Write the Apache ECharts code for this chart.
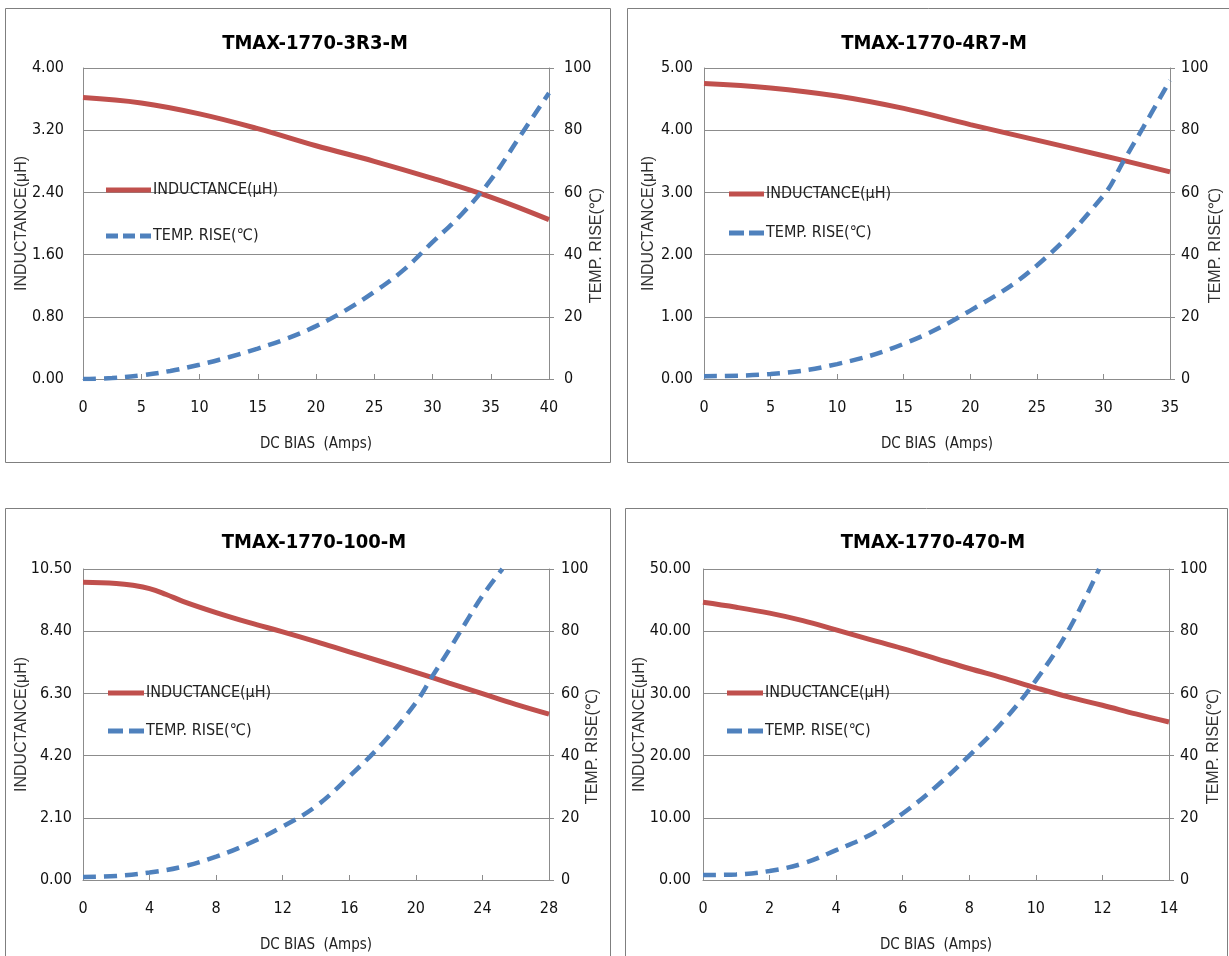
<!DOCTYPE html>
<html><head><meta charset="utf-8">
<script src="https://cdn.jsdelivr.net/npm/echarts@6/dist/echarts.min.js"></script>
<style>html,body{margin:0;padding:0;background:#fff}#c{width:1229px;height:956px}</style>
</head><body><div id="c"></div>
<script>
// Panel titles
const titles = ['TMAX-1770-3R3-M', 'TMAX-1770-4R7-M', 'TMAX-1770-100-M', 'TMAX-1770-470-M'];
// Axis ranges
const xMax = [40, 35, 28, 14];
const xInterval = [5, 5, 4, 2];
const yLeftMax = [4, 5, 10.5, 50];
const yLeftInterval = [0.8, 1, 2.1, 10];
const yRightMax = [100, 100, 100, 100];
const yRightInterval = [20, 20, 20, 20];

// Panel 1 : TMAX-1770-3R3-M
const p1IndX = [0, 5, 10, 15, 20, 25, 30, 35, 40];
const p1Ind = [3.62, 3.55, 3.41, 3.22, 3.00, 2.80, 2.58, 2.34, 2.05];
const p1TmpX = [0, 2.5, 5, 7.5, 10, 12.5, 15, 17.5, 20, 22.5, 25, 27.5, 30, 32.5, 35, 37.5, 40];
const p1Tmp = [0, 0.3, 1.2, 2.6, 4.6, 7, 9.8, 13, 17, 22, 28, 35, 44, 53, 64, 78, 92];

// Panel 2 : TMAX-1770-4R7-M
const p2IndX = [0, 5, 10, 15, 20, 25, 30, 35];
const p2Ind = [4.75, 4.68, 4.55, 4.35, 4.09, 3.84, 3.59, 3.33];
const p2TmpX = [0, 5, 10, 15, 20, 25, 30, 31.5, 33, 35];
const p2Tmp = [0.9, 1.6, 4.8, 11.3, 22, 36.5, 59, 70, 81, 96];

// Panel 3 : TMAX-1770-100-M
const p3IndX = [0, 2, 3, 4, 5, 6, 8, 10, 12, 14, 16, 18, 20, 22, 24, 26, 28];
const p3Ind = [10.05, 10.01, 9.95, 9.84, 9.64, 9.41, 9.03, 8.69, 8.38, 8.05, 7.70, 7.36, 7.01, 6.65, 6.29, 5.93, 5.60];
const p3TmpX = [0, 2, 4, 6, 8, 10, 12, 14, 16, 18, 20, 21, 22, 23, 24, 25.2];
const p3Tmp = [1, 1.3, 2.4, 4.3, 7.5, 11.8, 17.2, 23.7, 33.3, 44, 57, 65.6, 74, 82.8, 91.4, 100];

// Panel 4 : TMAX-1770-470-M
const p4IndX = [0, 1, 2, 3, 4, 5, 6, 7, 8, 9, 10, 11, 12, 13, 14];
const p4Ind = [44.65, 43.85, 42.9, 41.7, 40.2, 38.7, 37.2, 35.6, 34.0, 32.5, 30.9, 29.4, 28.1, 26.7, 25.4];
const p4TmpX = [0, 1, 2, 3, 4, 5, 6, 7, 8, 9, 10, 11, 11.9];
const p4Tmp = [1.6, 1.8, 2.9, 5.3, 9.6, 14.4, 21.4, 30, 40, 50.8, 64.2, 80.7, 100];

const indLabel = 'INDUCTANCE(μH)';
const tmpLabel = 'TEMP. RISE(℃)';
const xName = 'DC BIAS  (Amps)';

const indX = [p1IndX, p2IndX, p3IndX, p4IndX];
const indY = [p1Ind, p2Ind, p3Ind, p4Ind];
const tmpX = [p1TmpX, p2TmpX, p3TmpX, p4TmpX];
const tmpY = [p1Tmp, p2Tmp, p3Tmp, p4Tmp];

const pair = (xs, ys) => xs.map((x, i) => [x, ys[i]]);

// layout
const grids = [
  {left: 83, top: 68, width: 466, height: 311},
  {left: 704, top: 68, width: 466, height: 311},
  {left: 83, top: 569, width: 466, height: 311},
  {left: 703, top: 569, width: 466, height: 311}
];
const leftNameGap = [53, 47, 53, 55];
const rightNameGap = [40, 38, 36, 37];
const leftLabelMargin = [19, 11, 11, 12];
const rightLabelMargin = [15, 11, 12, 11];
const boxes = [[5, 8, 605, 454], [627, 8, 603, 454], [5, 508, 605, 460], [625, 508, 602, 460]];
const titlePos = [[310, 29], [929, 29], [309, 528], [928, 528]];
// [left, top, iconWidth, gap]
const legendPos = [[101, 177, 45, 30], [724, 181, 35, 23], [103, 680, 36, 22], [722, 680, 36, 22]];
const solidIcon = w => 'path://M0,0H' + w + 'V5H0Z';
const dashIcon = w => w > 40
  ? 'path://M0,0h12v5h-12zM17,0h12v5h-12zM34,0h11v5h-11z'
  : 'path://M0,0h15v5h-15zM' + (w - 15) + ',0h15v5h-15z';

const narrow = "'Liberation Sans Narrow','DejaVu Sans Condensed',sans-serif";
const sans = "'Liberation Sans',Arial,sans-serif";
const red = '#C0504D', blue = '#4F81BD', gridGray = '#8c8c8c';

const option = {
  animation: false,
  backgroundColor: '#fff',
  graphic: boxes.map(b => ({type: 'rect', shape: {x: b[0] + 0.5, y: b[1] + 0.5, width: b[2], height: b[3]}, style: {fill: 'none', stroke: '#7f7f7f', lineWidth: 1}, z: -1})),
  title: titles.map((t, i) => ({text: t, left: titlePos[i][0], top: titlePos[i][1], textAlign: 'center',
    textStyle: {fontFamily: narrow, fontWeight: 'bold', fontSize: 20, color: '#000'}})),
  legend: [0, 1, 2, 3].map(i => ({
    data: [
      {name: indLabel + '#' + i, icon: solidIcon(legendPos[i][2]), itemStyle: {color: red}},
      {name: tmpLabel + '#' + i, icon: dashIcon(legendPos[i][2]), itemStyle: {color: blue}}
    ],
    formatter: n => n.split('#')[0],
    orient: 'vertical', left: legendPos[i][0], top: legendPos[i][1],
    itemWidth: legendPos[i][2], itemHeight: 5, itemGap: legendPos[i][3],
    symbolKeepAspect: false,
    textStyle: {fontFamily: narrow, fontSize: 16, color: '#222', padding: [0, 0, 0, -3]},
    selectedMode: false
  })),
  grid: grids.map(g => Object.assign({containLabel: false}, g)),
  xAxis: grids.map((g, i) => ({
    type: 'value', gridIndex: i, min: 0, max: xMax[i], interval: xInterval[i],
    name: xName, nameLocation: 'middle', nameGap: 58, nameMoveOverlap: false,
    nameTextStyle: {fontFamily: narrow, fontSize: 15, color: '#222'},
    axisLine: {lineStyle: {color: gridGray, width: 1}},
    axisTick: {show: true, inside: true, length: 5, lineStyle: {color: gridGray}},
    axisLabel: {fontFamily: narrow, fontSize: 16, color: '#111', margin: 21},
    splitLine: {show: false}
  })),
  yAxis: [].concat(...grids.map((g, i) => [
    {
      type: 'value', gridIndex: i, min: 0, max: yLeftMax[i], interval: yLeftInterval[i], position: 'left',
      name: indLabel, nameLocation: 'middle', nameGap: leftNameGap[i], nameRotate: 90, nameMoveOverlap: false,
      nameTextStyle: {fontFamily: sans, fontSize: 16, color: '#333'},
      axisLine: {show: true, lineStyle: {color: gridGray}},
      axisTick: {show: false},
      axisLabel: {fontFamily: narrow, fontSize: 16, color: '#111', margin: leftLabelMargin[i],
        formatter: v => v.toFixed(2)},
      splitLine: {show: true, lineStyle: {color: gridGray, width: 1}}
    },
    {
      type: 'value', gridIndex: i, min: 0, max: yRightMax[i], interval: yRightInterval[i], position: 'right',
      name: tmpLabel, nameLocation: 'middle', nameGap: rightNameGap[i], nameRotate: 90, nameMoveOverlap: false,
      nameTextStyle: {fontFamily: sans, fontSize: 16, color: '#333', padding: [0, 44, 0, 0]},
      axisLine: {show: true, lineStyle: {color: gridGray}},
      axisTick: {show: true, inside: false, length: 5, lineStyle: {color: gridGray}},
      axisLabel: {fontFamily: narrow, fontSize: 16, color: '#111', margin: rightLabelMargin[i]},
      splitLine: {show: false}
    }
  ])),
  series: [].concat(...grids.map((g, i) => [
    {
      name: indLabel + '#' + i, type: 'line', xAxisIndex: i, yAxisIndex: 2 * i,
      data: pair(indX[i], indY[i]), smooth: 0.4, symbol: 'none',
      lineStyle: {color: red, width: 5}, itemStyle: {color: red}
    },
    {
      name: tmpLabel + '#' + i, type: 'line', xAxisIndex: i, yAxisIndex: 2 * i + 1,
      data: pair(tmpX[i], tmpY[i]), smooth: 0.4, symbol: 'none',
      lineStyle: {color: blue, width: 4.5, type: [13, 8]}, itemStyle: {color: blue}
    }
  ]))
};
const chart = echarts.init(document.getElementById('c'));
chart.setOption(option);
</script></body></html>
